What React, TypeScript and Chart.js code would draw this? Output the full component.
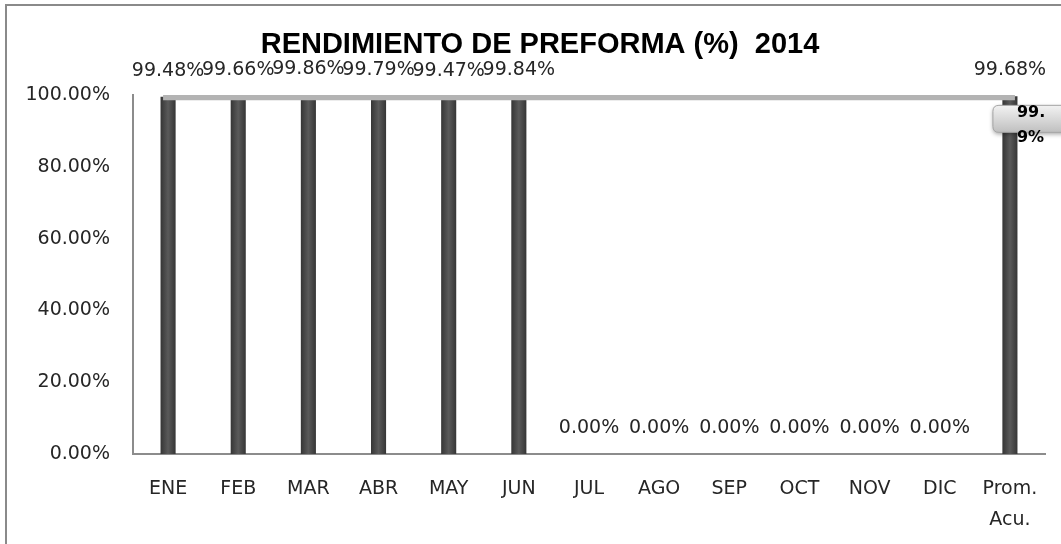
import React, { useEffect, useRef } from "react";
import { Chart, registerables } from "chart.js";

Chart.register(...registerables);

const TITLE = "RENDIMIENTO DE PREFORMA (%)  2014";
const categories: (string | string[])[] = ["ENE", "FEB", "MAR", "ABR", "MAY", "JUN", "JUL", "AGO", "SEP", "OCT", "NOV", "DIC", ["Prom.", "Acu."]];
const rendimiento = [99.48, 99.66, 99.86, 99.79, 99.47, 99.84, 0, 0, 0, 0, 0, 0, 99.68];
const meta = [99.9, 99.9, 99.9, 99.9, 99.9, 99.9, 99.9, 99.9, 99.9, 99.9, 99.9, 99.9, 99.9];
const metaLabel = "99.9%";
const yTicks = [0, 20, 40, 60, 80, 100];

const FONT = "'DejaVu Sans', sans-serif";

const decorPlugin = {
  id: "decor",
  beforeDraw(chart: any) {
    const ctx = chart.ctx;
    ctx.save();
    ctx.fillStyle = "#ffffff";
    ctx.fillRect(0, 0, chart.width, chart.height);
    ctx.strokeStyle = "#8a8a8a";
    ctx.lineWidth = 2;
    ctx.strokeRect(6, 5, 2000, 2000);
    ctx.fillStyle = "#000000";
    ctx.font = "bold 29px 'Liberation Sans', Arial, sans-serif";
    ctx.textAlign = "center";
    ctx.textBaseline = "middle";
    ctx.fillText(TITLE, 540, 45);
    ctx.restore();
  },
  afterDatasetsDraw(chart: any) {
    const ctx = chart.ctx;
    ctx.save();
    const barMeta = chart.getDatasetMeta(1);
    ctx.font = `19px ${FONT}`;
    ctx.fillStyle = "#262626";
    ctx.textAlign = "center";
    ctx.textBaseline = "middle";
    barMeta.data.forEach((el: any, i: number) => {
      const v = rendimiento[i];
      ctx.fillText(v.toFixed(2) + "%", el.x, el.y - 26);
    });
    const lineMeta = chart.getDatasetMeta(0);
    const last = lineMeta.data[lineMeta.data.length - 1];
    if (last) {
      const bx = last.x - 17;
      const by = last.y + 10;
      const bw = 90;
      const bh = 27;
      const r = 6;
      ctx.shadowColor = "rgba(0,0,0,0.35)";
      ctx.shadowBlur = 4;
      ctx.shadowOffsetY = 2;
      const g = ctx.createLinearGradient(0, by, 0, by + bh);
      g.addColorStop(0, "#f2f2f2");
      g.addColorStop(0.5, "#d9d9d9");
      g.addColorStop(1, "#bfbfbf");
      ctx.fillStyle = g;
      ctx.beginPath();
      ctx.moveTo(bx + r, by);
      ctx.lineTo(bx + bw - r, by);
      ctx.quadraticCurveTo(bx + bw, by, bx + bw, by + r);
      ctx.lineTo(bx + bw, by + bh - r);
      ctx.quadraticCurveTo(bx + bw, by + bh, bx + bw - r, by + bh);
      ctx.lineTo(bx + r, by + bh);
      ctx.quadraticCurveTo(bx, by + bh, bx, by + bh - r);
      ctx.lineTo(bx, by + r);
      ctx.quadraticCurveTo(bx, by, bx + r, by);
      ctx.closePath();
      ctx.fill();
      ctx.shadowColor = "transparent";
      ctx.strokeStyle = "#a6a6a6";
      ctx.lineWidth = 1;
      ctx.stroke();
      ctx.fillStyle = "#000000";
      ctx.font = `bold 16px ${FONT}`;
      ctx.textAlign = "left";
      const parts = [metaLabel.slice(0, 3), metaLabel.slice(3)];
      ctx.fillText(parts[0], last.x + 7, last.y + 17);
      ctx.fillText(parts[1], last.x + 7, last.y + 42);
    }
    ctx.restore();
  },
};

function barFill(c: any) {
  const chart = c.chart;
  const xs = chart.scales && chart.scales.x;
  if (!xs || c.type !== "data") return "#454545";
  const x = xs.getPixelForValue(c.dataIndex);
  if (!isFinite(x)) return "#454545";
  const g = chart.ctx.createLinearGradient(x - 8, 0, x + 8, 0);
  g.addColorStop(0, "#333333");
  g.addColorStop(0.5, "#5a5a5a");
  g.addColorStop(1, "#333333");
  return g;
}

export default function App() {
  const ref = useRef<HTMLCanvasElement | null>(null);
  useEffect(() => {
    if (!ref.current) return;
    const chart = new Chart(ref.current, {
      type: "bar",
      data: {
        labels: categories,
        datasets: [
          {
            type: "line",
            label: "Meta",
            data: meta,
            borderColor: "#b3b3b3",
            borderWidth: 10,
            borderCapStyle: "square",
            pointRadius: 0,
            tension: 0,
            order: 0,
          } as any,
          {
            type: "bar",
            label: "Rendimiento",
            data: rendimiento,
            backgroundColor: barFill,
            barPercentage: 0.215,
            categoryPercentage: 1,
            order: 1,
          } as any,
        ],
      },
      options: {
        responsive: false,
        animation: false,
        layout: { padding: { top: 95, right: 16, left: 0, bottom: 0 } },
        plugins: {
          legend: { display: false },
          title: { display: false },
          tooltip: { enabled: false },
        },
        scales: {
          x: {
            grid: { display: false, drawTicks: false },
            border: { display: true, color: "#8c8c8c", width: 2 },
            ticks: {
              color: "#262626",
              font: { family: FONT, size: 19, lineHeight: 1.65 },
              padding: 19,
              maxRotation: 0,
              autoSkip: false,
            },
            afterFit(scale: any) {
              scale.height = 90;
            },
          },
          y: {
            min: 0,
            max: 100,
            afterBuildTicks(scale: any) {
              scale.ticks = yTicks.map((v) => ({ value: v }));
            },
            grid: { display: false, drawTicks: false },
            border: { display: true, color: "#8c8c8c", width: 2 },
            ticks: {
              color: "#262626",
              font: { family: FONT, size: 19 },
              padding: 23,
              callback: (v: any) => Number(v).toFixed(2) + "%",
            },
            afterFit(scale: any) {
              scale.width = 133;
            },
          },
        },
      },
      plugins: [decorPlugin],
    });
    return () => chart.destroy();
  }, []);
  return (
    <div style={{ position: "absolute", left: 0, top: 0, width: 1061, height: 544 }}>
      <canvas ref={ref} width={1061} height={544} style={{ display: "block" }} />
    </div>
  );
}
